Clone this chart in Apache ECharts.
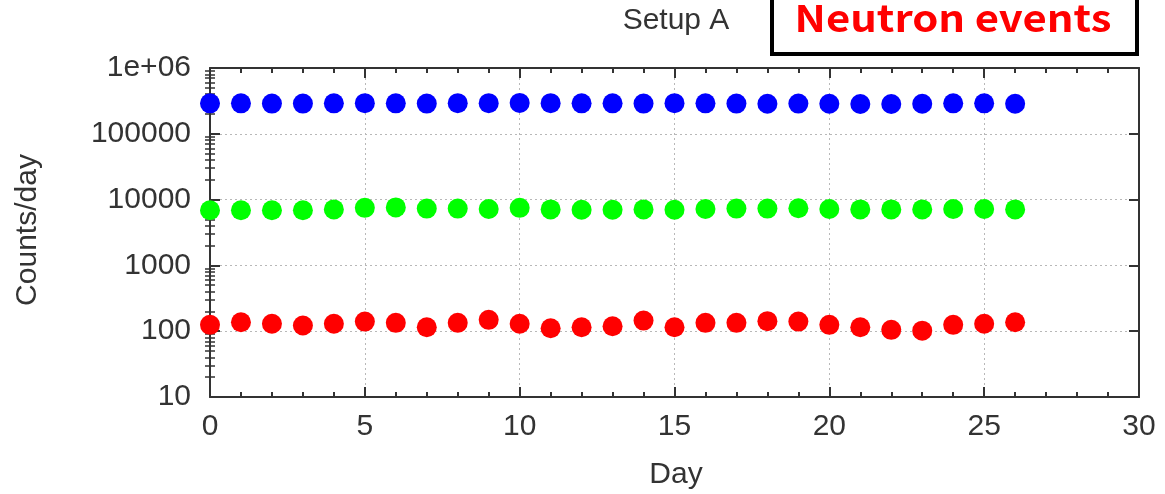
<!DOCTYPE html>
<html>
<head>
<meta charset="utf-8">
<script src="https://cdn.jsdelivr.net/npm/echarts@6/dist/echarts.min.js"></script>
<style>html,body{margin:0;padding:0;background:#fff;}#c{width:1165px;height:494px;}</style>
</head>
<body>
<div id="c"></div>
<script>
// ---- data ----
var days = [0,1,2,3,4,5,6,7,8,9,10,11,12,13,14,15,16,17,18,19,20,21,22,23,24,25,26];
var blueCounts = [290000,290000,288000,288000,290000,292000,290000,288000,292000,292000,295000,292000,290000,290000,288000,292000,290000,288000,286000,288000,286000,284000,284000,286000,290000,290000,286000];
var greenCounts = [6900,6900,6900,6900,7100,7500,7600,7300,7300,7200,7500,7100,7000,7000,7100,7000,7200,7300,7300,7400,7200,7100,7100,7100,7200,7200,7100];
var redCounts = [125,137,130,122,130,140,134,115,134,149,130,111,115,119,145,115,134,134,142,140,125,115,105,102,125,130,137];
var yTickValues = [10,100,1000,10000,100000,1000000];
var yTickLabels = ['10','100','1000','10000','100000','1e+06'];
var yMinorTicks = [];
for (var d = 10; d < 1000000; d *= 10) { for (var k = 2; k <= 9; k++) yMinorTicks.push(d * k); }
var xLabelTitle = 'Day';
var yLabelTitle = 'Counts/day';
var plotTitle = 'Setup A';
var boxText = 'Neutron events';

function pairs(vals){ return days.map(function(d,i){ return [d, vals[i]]; }); }

var FONT = 'Liberation Sans, Arial, sans-serif';
var AXC = '#333';
var grid = { left: 210, right: 26, top: 68, bottom: 97 };

function yLog(pos, opts){
  var base = {
    type: 'log', logBase: 10, min: 10, max: 1000000, position: pos,
    axisLine: { show: true, onZero: false, lineStyle: { color: AXC, width: 2 } },
    axisTick: { show: true, inside: true, length: 10, lineStyle: { color: AXC, width: 2 }, customValues: yTickValues },
    axisLabel: { show: false },
    splitLine: { show: false }
  };
  return Object.assign(base, opts || {});
}

var option = {
  animation: false,
  backgroundColor: '#fff',
  grid: grid,
  xAxis: [
    {
      type: 'value', min: 0, max: 30, interval: 5, position: 'bottom',
      axisLine: { show: true, onZero: false, lineStyle: { color: AXC, width: 2 } },
      axisTick: { show: true, inside: true, length: 10, lineStyle: { color: AXC, width: 2 } },
      minorTick: { show: true, splitNumber: 5, length: 5, lineStyle: { color: AXC, width: 2 } },
      axisLabel: { fontSize: 30, color: AXC, fontFamily: FONT, margin: 15 },
      splitLine: { show: true, lineStyle: { color: '#b8b8b8', width: 1, type: [2, 3] } }
    },
    {
      type: 'value', min: 0, max: 30, interval: 5, position: 'top',
      axisLine: { show: true, onZero: false, lineStyle: { color: AXC, width: 2 } },
      axisTick: { show: true, inside: true, length: 10, lineStyle: { color: AXC, width: 2 } },
      minorTick: { show: true, splitNumber: 5, length: 5, lineStyle: { color: AXC, width: 2 } },
      axisLabel: { show: false },
      splitLine: { show: false }
    }
  ],
  yAxis: [
    yLog('left', {
      axisLabel: { show: true, fontSize: 30, color: AXC, fontFamily: FONT, margin: 19,
        customValues: yTickValues,
        formatter: function(v){ var i = yTickValues.indexOf(v); return i >= 0 ? yTickLabels[i] : ''; } },
      splitLine: { show: true, lineStyle: { color: '#b8b8b8', width: 1, type: [2, 3] } }
    }),
    yLog('right'),
    yLog('left', { axisLine: { show: false }, axisTick: { show: true, inside: true, length: 5, lineStyle: { color: AXC, width: 1.5 }, customValues: yMinorTicks } }),
    yLog('right', { axisLine: { show: false }, axisTick: { show: true, inside: true, length: 5, lineStyle: { color: AXC, width: 1.5 }, customValues: yMinorTicks } })
  ],
  series: [
    { type: 'scatter', data: pairs(blueCounts), symbolSize: 20, itemStyle: { color: '#0000ff', opacity: 1 }, z: 5 },
    { type: 'scatter', data: pairs(greenCounts), symbolSize: 20, itemStyle: { color: '#00ff00', opacity: 1 }, z: 5 },
    { type: 'scatter', data: pairs(redCounts), symbolSize: 20, itemStyle: { color: '#ff0000', opacity: 1 }, z: 5 }
  ],
  graphic: [
    { type: 'text', x: 676, y: 21, style: { text: plotTitle, fontSize: 30, fill: AXC, fontFamily: FONT, align: 'center', verticalAlign: 'middle' } },
    { type: 'rect', shape: { x: 772, y: -10, width: 365, height: 64 }, style: { fill: '#fff', stroke: '#000', lineWidth: 4 }, z: 10 },
    { type: 'text', x: 953, y: 18, scaleX: 1.13, z: 11, style: { text: boxText, fontSize: 37, fontWeight: 'bold', fill: '#ff0000', fontFamily: 'Noto Sans CJK JP, Noto Sans, sans-serif', align: 'center', verticalAlign: 'middle' } },
    { type: 'text', x: 676, y: 475, style: { text: xLabelTitle, fontSize: 30, fill: AXC, fontFamily: FONT, align: 'center', verticalAlign: 'middle' } },
    { type: 'text', x: 28, y: 230, rotation: Math.PI / 2, style: { text: yLabelTitle, fontSize: 30, fill: AXC, fontFamily: FONT, align: 'center', verticalAlign: 'middle' } }
  ]
};
var chart = echarts.init(document.getElementById('c'), null, { renderer: 'canvas' });
chart.setOption(option);
</script>
</body>
</html>
